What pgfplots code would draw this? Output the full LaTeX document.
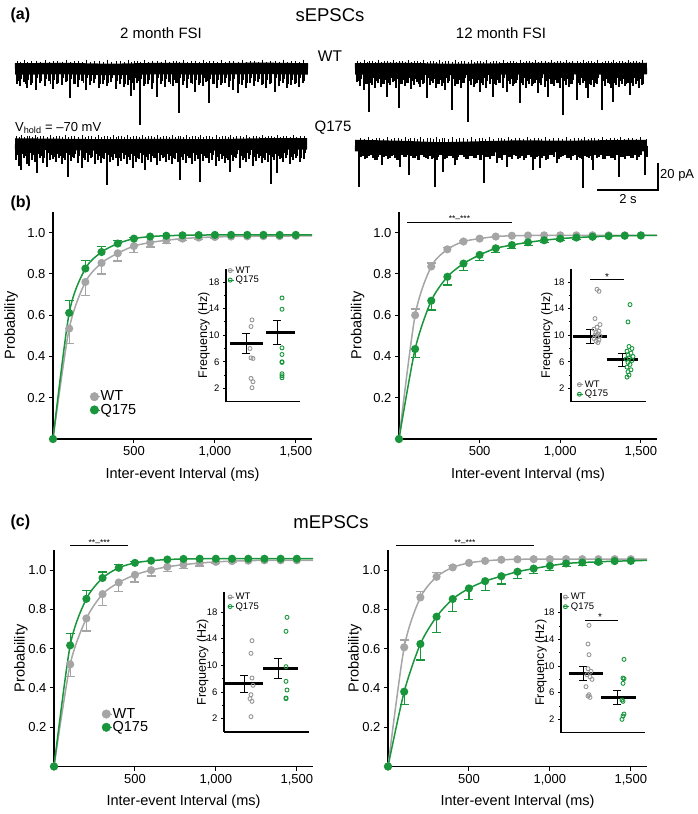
\documentclass[border=0pt]{standalone}
\usepackage{pgfplots}
\usepackage{pgfplotstable}
\pgfplotsset{compat=1.18}
\usepackage{fontspec}
\setmainfont{Liberation Sans}
\definecolor{cgray}{RGB}{165,165,165}
\definecolor{igray}{RGB}{150,150,150}
\definecolor{cgreen}{RGB}{25,150,60}
\pgfplotsset{
  nomark/.style={only marks, mark=*, mark size=0pt, mark options={draw=none, fill=none}},
  mainax/.style={
    scale only axis, anchor=south west, clip=false,
    xmin=0, xmax=1600, ymin=0, ymax=1.1,
    axis x line*=bottom, axis y line*=left,
    axis line style={-, line width=1.3pt, black},
    xtick={500,1000,1500}, xticklabels={500,{1,000},{1,500}},
    ytick={0.2,0.4,0.6,0.8,1.0},
    yticklabel style={/pgf/number format/.cd, fixed, fixed zerofill, precision=1},
    /pgf/number format/assume math mode=true,
    tick align=outside, major tick length=4pt,
    tick style={black, line width=1pt},
    tick label style={font=\fontsize{13}{14}\selectfont},
    label style={font=\fontsize{14.5}{16}\selectfont},
    xlabel={Inter-event Interval (ms)}, ylabel={Probability},
    legend style={draw=none, fill=none, font=\fontsize{14.5}{15}\selectfont, anchor=west, inner sep=0pt, row sep=0.5pt, nodes={inner sep=0.6pt}},
    legend cell align=left,
    legend image code/.code={\path (0pt,0pt) -- (10pt,0pt); \draw[mark repeat=2, mark phase=2, ##1] plot coordinates {(0pt,0pt) (4.5pt,0pt) (9pt,0pt)};},
  },
  inax/.style={
    scale only axis, anchor=south west, clip=false,
    xmin=0, ymin=0,
    axis x line*=bottom, axis y line*=left,
    axis line style={-, line width=1.2pt, black},
    xtick=\empty, ytick={2,6,10,14,18}, minor ytick={4,8,12,16},
    /pgf/number format/assume math mode=true,
    tick align=outside, major tick length=3pt, minor tick length=2pt,
    tick style={black, line width=0.8pt},
    tick label style={font=\fontsize{9.5}{10}\selectfont},
    ylabel={Frequency (Hz)}, label style={font=\fontsize{12.5}{13}\selectfont},
    legend style={draw=none, fill=none, font=\fontsize{9.5}{10}\selectfont, anchor=west, inner sep=0pt, row sep=-0.5pt, nodes={inner sep=1pt}},
    legend cell align=left,
    legend image code/.code={\path (0pt,0pt) -- (6.5pt,0pt); \draw[mark repeat=2, mark phase=2, ##1] plot coordinates {(0pt,0pt)(2.5pt,0pt)(5pt,0pt)};},
  },
  curve/.style={line width=1.5pt, smooth, tension=0.45, mark=*, mark size=3.3pt, mark indices={1,...,16}, forget plot},
  ebar/.style={nomark, forget plot, error bars/.cd, y dir=#1, y explicit, error bar style={line width=1.2pt}, error mark options={rotate=90, line width=1.2pt, mark size=4.5pt}},
  iebar/.style={black, nomark, forget plot, error bars/.cd, y dir=both, y explicit, error bar style={line width=1pt}, error mark options={rotate=90, line width=1pt, mark size=4pt}},
  ipts/.style={only marks, mark=o, mark size=2pt, line width=0.9pt, forget plot},
  meanbar/.style={black, line width=3pt, forget plot},
  spikes/.style={black, nomark, forget plot, error bars/.cd, y dir=plus, y explicit, error bar style={line width=#1}, error mark=none},
  upn/.style={black, nomark, forget plot, error bars/.cd, y dir=minus, y explicit, error bar style={line width=1pt}, error mark=none},
}
\pgfplotstableread{
x t s u
17 84 81 61
20 86 79 62
24 82 84 60
27 88 80 62.5
31 85 83 61.5
36 90 78 61
40 83 81 62
45 86 79 60
49 81 84 62.5
53 89 80 61.5
57 84 83 61
62 85 78 62
66 82 81 60
70 98 79 62.5
74 84 84 61.5
78 87 80 61
82 81 83 62
86 90 78 60
90 85 81 62.5
94 83 79 61.5
99 88 84 61
103 84 80 62
107 86 83 60
111 82 78 62.5
116 89 81 61.5
120 84 79 61
124 87 84 62
128 85 80 60
131 96 83 62.5
134 90 78 61.5
137 83 81 61
140 125 79 62
144 86 84 60
148 84 80 62.5
152 89 83 61.5
157 97 78 61
161 84 81 62
165 87 79 60
169 82 84 62.5
173 86 80 61.5
176 83 83 61
179 113 78 62
183 85 81 60
187 88 79 62.5
191 83 84 61.5
195 92 80 61
199 85 83 62
203 86 78 60
206 82 81 62.5
209 103 79 61.5
213 84 84 61
217 88 80 62
221 85 83 60
225 83 78 62.5
229 87 81 61.5
233 90 79 61
238 93 84 62
242 85 80 60
246 88 83 62.5
250 83 78 61.5
254 86 81 61
258 82 79 62
262 85 84 60
266 88 80 62.5
270 84 83 61.5
275 92 78 61
279 86 81 62
283 83 79 60
287 88 84 62.5
291 85 80 61.5
295 84 83 61
299 87 78 62
303 83 81 60
}\tlwt
\pgfplotstableread{
x t s u
16 160 155 136
19 166 157 137
21 170 154 135.5
24 158 156 137.5
27 164 158 136.5
29 166 153 136
32 160 155 137
35 162 157 135.5
37 173 154 137.5
40 158 156 136.5
43 163 158 136
47 167 153 137
50 160 155 135.5
53 159 157 137.5
56 162 154 136.5
59 158 156 136
62 164 158 137
65 160 153 135.5
68 177 155 137.5
71 161 157 136.5
74 158 154 136
78 163 156 137
82 168 158 135.5
85 160 153 137.5
88 162 155 136.5
91 158 157 136
95 164 154 137
98 160 156 135.5
101 163 158 137.5
104 159 153 136.5
107 185 155 136
110 162 157 137
113 160 154 135.5
116 158 156 137.5
118 166 158 136.5
121 161 153 136
124 159 155 137
127 164 157 135.5
130 160 154 137.5
133 168 156 136.5
136 162 158 136
139 159 153 137
142 163 155 135.5
145 170 157 137.5
148 160 154 136.5
151 162 156 136
154 158 158 137
157 165 153 135.5
160 161 155 137.5
163 158 157 136.5
166 162 154 136
169 160 156 137
172 164 158 135.5
175 159 153 137.5
178 162 155 136.5
180 180 157 136
183 160 154 137
186 163 156 135.5
189 158 158 137.5
192 164 153 136.5
195 161 155 136
198 159 157 137
200 182 154 135.5
203 161 156 137.5
206 158 158 136.5
209 163 153 136
212 160 155 137
216 166 157 135.5
219 161 154 137.5
222 159 156 136.5
225 163 158 136
228 160 153 137
230 172 155 135.5
233 161 157 137.5
236 158 154 136.5
240 168 156 136
243 160 158 137
246 162 153 135.5
249 159 155 137.5
253 166 157 136.5
256 161 154 136
259 158 156 137
262 163 158 135.5
265 160 153 137.5
268 162 155 136.5
271 184 157 136
274 160 154 137
277 173 156 135.5
280 159 158 137.5
283 162 153 136.5
286 158 155 136
290 164 157 137
293 160 154 135.5
296 158 156 137.5
300 162 158 136.5
304 159 153 136
}\tlq
\pgfplotstableread{
x t s u
357 82 81 61
360 86 79 62
364 90 84 60
367 84 80 62.5
369 112 83 61.5
372 85 78 61
375 88 81 62
378 83 79 60
381 87 84 62.5
384 84 80 61.5
387 97 83 61
390 85 78 62
393 82 81 60
396 88 79 62.5
399 108 84 61.5
402 84 80 61
405 86 83 62
408 83 78 60
411 89 81 62.5
414 85 79 61.5
417 82 84 61
420 87 80 62
423 84 83 60
427 98 78 62.5
430 85 81 61.5
433 83 79 61
436 88 84 62
439 84 80 60
442 86 83 62.5
445 90 78 61.5
448 83 81 61
452 110 79 62
455 86 84 60
458 84 80 62.5
461 88 83 61.5
464 83 78 61
468 122 81 62
471 85 79 60
474 87 84 62.5
477 83 80 61.5
480 92 83 61
483 85 78 62
486 88 81 60
490 84 79 62.5
493 97 84 61.5
496 85 80 61
499 83 83 62
503 88 78 60
507 92 81 62.5
510 84 79 61.5
513 86 84 61
516 83 80 62
520 103 83 60
523 85 78 62.5
526 88 81 61.5
529 84 79 61
532 86 84 62
535 83 80 60
538 93 83 62.5
541 85 78 61.5
545 87 81 61
548 97 79 62
551 84 84 60
554 86 80 62.5
557 83 83 61.5
560 88 78 61
563 115 81 62
566 85 79 60
569 87 84 62.5
572 84 80 61.5
577 100 83 61
580 85 78 62
583 83 81 60
586 88 79 62.5
588 98 84 61.5
591 85 80 61
594 87 83 62
597 84 78 60
602 110 81 62.5
605 86 79 61.5
608 83 84 61
611 88 80 62
613 102 83 60
616 85 78 62.5
619 87 81 61.5
622 84 79 61
625 86 84 62
628 83 80 60
630 95 83 62.5
633 86 78 61.5
636 84 81 61
639 88 79 62
642 85 84 60
}\trwt
\pgfplotstableread{
x t s u
359 187 157 138
363 156 159 139
367 158 156 137.5
371 155 158 139.5
375 160 160 138.5
378 157 155 138
382 165 157 139
386 156 159 137.5
390 158 156 139.5
393 155 158 138.5
397 160 160 138
400 167 155 139
404 157 157 137.5
407 155 159 139.5
409 175 156 138.5
413 158 158 138
416 156 160 139
419 160 155 137.5
422 155 157 139.5
426 158 159 138.5
429 156 156 138
432 159 158 139
435 187 160 137.5
438 157 155 139.5
441 155 157 138.5
443 172 159 138
447 158 156 139
451 156 158 137.5
455 165 160 139.5
458 157 155 138.5
462 155 157 138
466 159 159 139
470 156 156 137.5
474 158 158 139.5
478 155 160 138.5
481 160 155 138
484 183 157 139
488 157 159 137.5
492 156 156 139.5
497 163 158 138.5
500 158 160 138
503 155 155 139
507 167 157 137.5
510 157 159 139.5
514 155 156 138.5
518 159 158 138
522 156 160 139
526 158 155 137.5
529 155 157 139.5
533 170 159 138.5
537 157 156 138
540 168 158 139
544 156 160 137.5
548 159 155 139.5
552 155 157 138.5
557 163 159 138
561 157 156 139
565 155 158 137.5
569 158 160 139.5
573 156 155 138.5
577 160 157 138
580 158 159 139
583 188 156 137.5
587 157 158 139.5
590 156 160 138.5
593 170 155 138
597 158 157 139
601 155 159 137.5
605 159 156 139.5
609 156 158 138.5
613 158 160 138
616 155 155 139
619 177 157 137.5
623 157 159 139.5
627 156 156 138.5
631 158 158 138
635 155 160 139
639 157 155 137.5
645 175 157 139.5
}\trq
\begin{document}
\begin{tikzpicture}[x=1pt,y=1pt]
\useasboundingbox (0,0) rectangle (697,814);

% ---------------- panel (a): traces, drawn in pixel coordinates ----------------
\begin{axis}[hide axis, scale only axis, anchor=south west, at={(0pt,599pt)},
  width=697pt, height=215pt, xmin=0, xmax=697, ymin=-215, ymax=0, clip=false]
% noise bands
\addplot[black, line width=11.5pt, forget plot] coordinates {(15,-69)(60,-68.5)(110,-69.5)(160,-68.5)(210,-69)(260,-68.3)(308,-69)};
\addplot[black, line width=11.5pt, forget plot] coordinates {(15,-144)(60,-144.5)(110,-145)(160,-144.5)(210,-145)(260,-144)(307,-144)};
\addplot[black, line width=11.5pt, forget plot] coordinates {(355,-69)(400,-68.5)(450,-69.5)(500,-69)(550,-68.5)(600,-69)(647,-68.5)};
\addplot[black, line width=11.5pt, forget plot] coordinates {(355,-145.5)(400,-146.5)(440,-148)(480,-147)(520,-146)(560,-146.5)(600,-146)(647,-145.5)};
% 2 month WT
\addplot[spikes=1.4pt] table[x=x, y expr=-\thisrow{t}, y error expr=\thisrow{t}-69] {\tlwt};
\addplot[spikes=1.1pt] table[x expr=\thisrow{x}+1.6, y expr=-\thisrow{s}, y error expr=\thisrow{s}-69] {\tlwt};
\addplot[upn] table[x expr=\thisrow{x}+0.8, y expr=-\thisrow{u}, y error expr=69-\thisrow{u}] {\tlwt};
% 2 month Q175
\addplot[spikes=1.4pt] table[x=x, y expr=-\thisrow{t}, y error expr=\thisrow{t}-144] {\tlq};
\addplot[spikes=1.1pt] table[x expr=\thisrow{x}+1.5, y expr=-\thisrow{s}, y error expr=\thisrow{s}-144] {\tlq};
\addplot[upn] table[x expr=\thisrow{x}+0.8, y expr=-\thisrow{u}, y error expr=144-\thisrow{u}] {\tlq};
% 12 month WT
\addplot[spikes=1.4pt] table[x=x, y expr=-\thisrow{t}, y error expr=\thisrow{t}-69] {\trwt};
\addplot[spikes=1.1pt] table[x expr=\thisrow{x}+1.6, y expr=-\thisrow{s}, y error expr=\thisrow{s}-69] {\trwt};
\addplot[upn] table[x expr=\thisrow{x}+0.8, y expr=-\thisrow{u}, y error expr=69-\thisrow{u}] {\trwt};
% 12 month Q175
\addplot[spikes=1.4pt] table[x=x, y expr=-\thisrow{t}, y error expr=\thisrow{t}-146] {\trq};
\addplot[spikes=1.1pt] table[x expr=\thisrow{x}+2, y expr=-\thisrow{s}, y error expr=\thisrow{s}-146] {\trq};
\addplot[upn] table[x expr=\thisrow{x}+1, y expr=-\thisrow{u}, y error expr=146-\thisrow{u}] {\trq};
% scale bar
\addplot[black, line width=1.3pt, forget plot] coordinates {(597,-190)(658,-190)(658,-163)};
\node[font=\bfseries\fontsize{16}{16}\selectfont, anchor=west] at (axis cs:7,-15) {(a)};
\node[font=\fontsize{18.5}{19}\selectfont] at (axis cs:330,-15) {sEPSCs};
\node[font=\fontsize{15}{15}\selectfont] at (axis cs:161,-33) {2 month FSI};
\node[font=\fontsize{15}{15}\selectfont] at (axis cs:501,-33) {12 month FSI};
\node[font=\fontsize{15.5}{16}\selectfont] at (axis cs:330,-56) {WT};
\node[font=\fontsize{13}{14}\selectfont, anchor=west, inner sep=0pt] at (axis cs:15,-128) {V\textsubscript{hold} = –70 mV};
\node[font=\fontsize{15}{15}\selectfont] at (axis cs:333,-128) {Q175};
\node[font=\fontsize{13}{14}\selectfont, anchor=west, inner sep=0pt] at (axis cs:660,-175) {20 pA};
\node[font=\fontsize{13}{14}\selectfont] at (axis cs:628,-199) {2 s};
\node[font=\bfseries\fontsize{16}{16}\selectfont, anchor=west] at (axis cs:7,-203) {(b)};
\node[font=\bfseries\fontsize{16}{16}\selectfont, anchor=west] at (axis cs:7,-522) {(c)};
\node[font=\fontsize{18.5}{19}\selectfont] at (axis cs:331,-522) {mEPSCs};
\end{axis}

% ---------------- panel (b) left ----------------
\begin{axis}[mainax, at={(53pt,375pt)}, width=259pt, height=227pt,
  ylabel style={at={(axis description cs:-0.162,0.5)}, anchor=center},
  xlabel style={at={(axis description cs:0.5,-0.159)}, anchor=center},
  legend style={at={(0.141,0.157)}}]
\addlegendimage{only marks, mark=*, mark size=4.3pt, cgray}\addlegendentry{WT}
\addlegendimage{only marks, mark=*, mark size=4.3pt, cgreen}\addlegendentry{Q175}
\addplot[cgray, ebar=minus] coordinates {(100,0.535) -= (0,0.072) (200,0.761) -= (0,0.064) (300,0.853) -= (0,0.053) (400,0.900) -= (0,0.037) (500,0.935) -= (0,0.032) (600,0.952) -= (0,0.022) (700,0.963) -= (0,0.016) (800,0.971) -= (0,0.011) (900,0.976) -= (0,0.010) (1000,0.979) -= (0,0.008)};
\addplot[cgray, curve] coordinates {(0,0)(100,0.535)(200,0.761)(300,0.853)(400,0.900)(500,0.935)(600,0.952)(700,0.963)(800,0.971)(900,0.976)(1000,0.979)(1100,0.981)(1200,0.982)(1300,0.983)(1400,0.983)(1500,0.984)(1600,0.984)};
\addplot[cgreen, ebar=plus] coordinates {(100,0.611) += (0,0.062) (200,0.826) += (0,0.040) (300,0.906) += (0,0.028) (400,0.947) += (0,0.013) (500,0.971) += (0,0.005)};
\addplot[cgreen, curve] coordinates {(0,0)(100,0.611)(200,0.826)(300,0.906)(400,0.947)(500,0.971)(600,0.981)(700,0.985)(800,0.987)(900,0.988)(1000,0.989)(1100,0.989)(1200,0.989)(1300,0.989)(1400,0.989)(1500,0.989)(1600,0.989)};
\end{axis}
\begin{axis}[inax, at={(226pt,412.3pt)}, width=74pt, height=133pt, xmax=74, ymax=20,
  ylabel style={at={(axis description cs:-0.30,0.5)}, anchor=center},
  legend style={at={(0.015,0.95)}}]
\addlegendimage{only marks, mark=o, mark size=2pt, line width=0.9pt, igray}\addlegendentry{WT}
\addlegendimage{only marks, mark=o, mark size=2pt, line width=0.9pt, cgreen}\addlegendentry{Q175}
\addplot[ipts, igray] coordinates {(26,12.3)(25,11.3)(24,8.0)(25,6.6)(27,6.5)(25,3.5)(27,3.0)(26,2.1)};
\addplot[ipts, cgreen] coordinates {(56,15.6)(56,13.9)(56,8.1)(56,7.1)(56,6.0)(56,5.9)(56,4.2)(56,3.9)(56,3.6)};
\addplot[meanbar] coordinates {(4,8.7)(37,8.7)};
\addplot[meanbar] coordinates {(40,10.45)(69,10.45)};
\addplot[iebar] coordinates {(20,8.7) +- (0,1.5) (51,10.45) +- (0,1.8)};
\end{axis}

% ---------------- panel (b) right ----------------
\begin{axis}[mainax, at={(399pt,375pt)}, width=258pt, height=227pt,
  ylabel style={at={(axis description cs:-0.160,0.5)}, anchor=center},
  xlabel style={at={(axis description cs:0.5,-0.159)}, anchor=center}]
\addplot[cgray, ebar=plus] coordinates {(100,0.600) += (0,0.030) (200,0.836) += (0,0.017) (300,0.919) += (0,0.009) (400,0.957) += (0,0.006)};
\addplot[cgray, curve] coordinates {(0,0)(100,0.600)(200,0.836)(300,0.919)(400,0.957)(500,0.971)(600,0.981)(700,0.985)(800,0.986)(900,0.987)(1000,0.987)(1100,0.987)(1200,0.987)(1300,0.987)(1400,0.987)(1500,0.987)(1600,0.987)};
\addplot[cgreen, ebar=minus] coordinates {(100,0.436) -= (0,0.040) (200,0.670) -= (0,0.045) (300,0.786) -= (0,0.040) (400,0.850) -= (0,0.032) (500,0.892) -= (0,0.026) (600,0.924) -= (0,0.021) (700,0.940) -= (0,0.017) (800,0.953) -= (0,0.014) (900,0.963) -= (0,0.011) (1000,0.971) -= (0,0.008) (1100,0.976) -= (0,0.008) (1200,0.980) -= (0,0.005)};
\addplot[cgreen, curve] coordinates {(0,0)(100,0.436)(200,0.670)(300,0.786)(400,0.850)(500,0.892)(600,0.924)(700,0.940)(800,0.953)(900,0.963)(1000,0.971)(1100,0.976)(1200,0.980)(1300,0.983)(1400,0.985)(1500,0.986)(1600,0.987)};
\addplot[black, line width=1pt, forget plot] coordinates {(50,1.048)(700,1.048)};
\node[font=\fontsize{8.5}{8.5}\selectfont, anchor=south, inner sep=0.6pt] at (axis cs:375,1.048) {**–***};
\end{axis}
\begin{axis}[inax, at={(571pt,412.3pt)}, width=75pt, height=133pt, xmax=75, ymax=20,
  ylabel style={at={(axis description cs:-0.32,0.5)}, anchor=center},
  legend style={at={(0.07,0.092)}}]
\addlegendimage{only marks, mark=o, mark size=2pt, line width=0.9pt, igray}\addlegendentry{WT}
\addlegendimage{only marks, mark=o, mark size=2pt, line width=0.9pt, cgreen}\addlegendentry{Q175}
\addplot[ipts, igray] coordinates {(26,16.9)(28,16.6)(24,12.5)(29,11.6)(26,11.2)(23,10.9)(28,10.6)(25,10.4)(27,10.2)(24,10.0)(29,9.9)(26,9.7)(23,9.5)(28,9.3)(25,9.1)(27,8.9)};
\addplot[ipts, cgreen] coordinates {(59,14.6)(57,12.0)(58,8.3)(61,8.0)(56,7.6)(60,7.3)(57,7.0)(62,6.8)(58,6.6)(55,6.4)(61,6.2)(57,5.9)(59,5.6)(56,5.2)(60,4.8)(57,4.5)(58,4.0)(56,3.7)};
\addplot[meanbar] coordinates {(2,9.8)(36,9.8)};
\addplot[meanbar] coordinates {(36,6.3)(67,6.3)};
\addplot[iebar] coordinates {(19,9.8) +- (0,1.0) (51,6.3) +- (0,1.0)};
\addplot[black, line width=1pt, forget plot] coordinates {(19,18.35)(53,18.35)};
\node[font=\fontsize{10}{10}\selectfont, anchor=south, inner sep=0pt] at (axis cs:36,18.2) {*};
\end{axis}

% ---------------- panel (c) left ----------------
\begin{axis}[mainax, at={(54pt,47.5pt)}, width=259pt, height=216pt,
  ylabel style={at={(axis description cs:-0.128,0.5)}, anchor=center},
  xlabel style={at={(axis description cs:0.5,-0.162)}, anchor=center},
  legend style={at={(0.183,0.212)}}]
\addlegendimage{only marks, mark=*, mark size=4.3pt, cgray}\addlegendentry{WT}
\addlegendimage{only marks, mark=*, mark size=4.3pt, cgreen}\addlegendentry{Q175}
\addplot[cgray, ebar=minus] coordinates {(100,0.520) -= (0,0.060) (200,0.754) -= (0,0.064) (300,0.878) -= (0,0.058) (400,0.937) -= (0,0.047) (500,0.976) -= (0,0.036) (600,1.000) -= (0,0.030) (700,1.017) -= (0,0.025) (800,1.028) -= (0,0.020) (900,1.036) -= (0,0.015) (1000,1.042) -= (0,0.010) (1100,1.046) -= (0,0.008)};
\addplot[cgray, curve] coordinates {(0,0)(100,0.520)(200,0.754)(300,0.878)(400,0.937)(500,0.976)(600,1.000)(700,1.017)(800,1.028)(900,1.036)(1000,1.042)(1100,1.046)(1200,1.048)(1300,1.050)(1400,1.050)(1500,1.050)(1600,1.050)};
\addplot[cgreen, ebar=plus] coordinates {(100,0.617) += (0,0.061) (200,0.854) += (0,0.043) (300,0.960) += (0,0.030) (400,1.012) += (0,0.018) (500,1.037) += (0,0.008)};
\addplot[cgreen, curve] coordinates {(0,0)(100,0.617)(200,0.854)(300,0.960)(400,1.012)(500,1.037)(600,1.048)(700,1.054)(800,1.057)(900,1.058)(1000,1.058)(1100,1.058)(1200,1.058)(1300,1.058)(1400,1.058)(1500,1.058)(1600,1.058)};
\addplot[black, line width=1pt, forget plot] coordinates {(100,1.123)(460,1.123)};
\node[font=\fontsize{8.5}{8.5}\selectfont, anchor=south, inner sep=0.6pt] at (axis cs:280,1.123) {**–***};
\end{axis}
\begin{axis}[inax, at={(224pt,82pt)}, width=85pt, height=140pt, xmax=85, ymax=21,
  ylabel style={at={(axis description cs:-0.25,0.5)}, anchor=center},
  legend style={at={(0.035,0.93)}}]
\addlegendimage{only marks, mark=o, mark size=2pt, line width=0.9pt, igray}\addlegendentry{WT}
\addlegendimage{only marks, mark=o, mark size=2pt, line width=0.9pt, cgreen}\addlegendentry{Q175}
\addplot[ipts, igray] coordinates {(28,13.7)(27,11.8)(28,8.1)(29,7.0)(27,5.6)(26,5.0)(28,4.6)(27,2.3)};
\addplot[ipts, cgreen] coordinates {(63,17.2)(62,15.1)(62,9.8)(62,7.6)(63,6.3)(62,5.1)(62,5.0)};
\addplot[meanbar] coordinates {(1,7.2)(39,7.2)};
\addplot[meanbar] coordinates {(39,9.5)(74,9.5)};
\addplot[iebar] coordinates {(20,7.2) +- (0,1.3) (54,9.5) +- (0,1.45)};
\end{axis}

% ---------------- panel (c) right ----------------
\begin{axis}[mainax, at={(388pt,47.5pt)}, width=259pt, height=216pt,
  ylabel style={at={(axis description cs:-0.128,0.5)}, anchor=center},
  xlabel style={at={(axis description cs:0.5,-0.162)}, anchor=center}]
\addplot[cgray, ebar=plus] coordinates {(100,0.607) += (0,0.037) (200,0.861) += (0,0.032) (300,0.966) += (0,0.020) (400,1.014) += (0,0.011)};
\addplot[cgray, curve] coordinates {(0,0)(100,0.607)(200,0.861)(300,0.966)(400,1.014)(500,1.037)(600,1.047)(700,1.053)(800,1.055)(900,1.056)(1000,1.056)(1100,1.056)(1200,1.056)(1300,1.056)(1400,1.056)(1500,1.056)(1600,1.056)};
\addplot[cgreen, ebar=minus] coordinates {(100,0.381) -= (0,0.067) (200,0.624) -= (0,0.082) (300,0.763) -= (0,0.082) (400,0.853) -= (0,0.065) (500,0.907) -= (0,0.056) (600,0.944) -= (0,0.046) (700,0.969) -= (0,0.040) (800,0.992) -= (0,0.034) (900,1.008) -= (0,0.025) (1000,1.022) -= (0,0.022) (1100,1.034) -= (0,0.017) (1200,1.039) -= (0,0.014) (1300,1.042) -= (0,0.008)};
\addplot[cgreen, curve] coordinates {(0,0)(100,0.381)(200,0.624)(300,0.763)(400,0.853)(500,0.907)(600,0.944)(700,0.969)(800,0.992)(900,1.008)(1000,1.022)(1100,1.034)(1200,1.039)(1300,1.042)(1400,1.046)(1500,1.047)(1600,1.050)};
\addplot[black, line width=1pt, forget plot] coordinates {(50,1.123)(900,1.123)};
\node[font=\fontsize{8.5}{8.5}\selectfont, anchor=south, inner sep=0.6pt] at (axis cs:475,1.123) {**–***};
\end{axis}
\begin{axis}[inax, at={(561pt,81.3pt)}, width=84pt, height=140pt, xmax=84, ymax=21,
  ylabel style={at={(axis description cs:-0.24,0.5)}, anchor=center},
  legend style={at={(0.015,0.934)}}]
\addlegendimage{only marks, mark=o, mark size=2pt, line width=0.9pt, igray}\addlegendentry{WT}
\addlegendimage{only marks, mark=o, mark size=2pt, line width=0.9pt, cgreen}\addlegendentry{Q175}
\addplot[ipts, igray] coordinates {(28,16.1)(27,13.3)(28,11.7)(27,9.6)(30,9.2)(26,8.7)(29,8.4)(31,8.0)(25,6.9)(28,5.7)(27,5.5)(29,5.3)};
\addplot[ipts, cgreen] coordinates {(63,11.0)(62,8.2)(63,8.1)(62,7.4)(61,4.9)(62,4.7)(63,2.8)(62,2.5)(61,2.0)};
\addplot[meanbar] coordinates {(8,8.9)(42,8.9)};
\addplot[meanbar] coordinates {(40,5.25)(75,5.25)};
\addplot[iebar] coordinates {(22,8.9) +- (0,1.0) (56,5.25) +- (0,1.05)};
\addplot[black, line width=1pt, forget plot] coordinates {(24,16.9)(57,16.9)};
\node[font=\fontsize{10}{10}\selectfont, anchor=south, inner sep=0pt] at (axis cs:39,16.75) {*};
\end{axis}
\end{tikzpicture}
\end{document}
